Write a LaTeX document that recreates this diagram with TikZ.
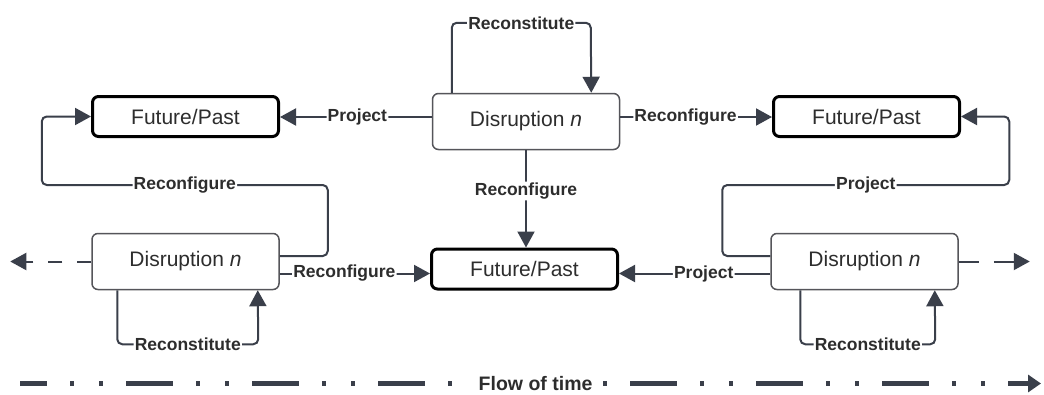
\documentclass[tikz,border=0pt]{standalone}
\usepackage{fontspec}
\setmainfont{Liberation Sans}
\usetikzlibrary{arrows.meta,calc}
\definecolor{conncol}{RGB}{58,63,74}
\definecolor{txtcol}{RGB}{45,45,45}
\definecolor{dborder}{RGB}{85,85,90}
\tikzset{
  fpbox/.style={draw=black, line width=3pt, rounded corners=6pt, fill=white,
    minimum width=186pt, minimum height=40pt, inner sep=0pt, text=txtcol,
    font=\fontsize{21}{25}\selectfont},
  dbox/.style={draw=dborder, line width=1.5pt, rounded corners=6pt, fill=white,
    minimum width=187pt, minimum height=56pt, inner sep=0pt, text=txtcol,
    font=\fontsize{21}{25}\selectfont},
  conn/.style={draw=conncol, line width=2pt, rounded corners=5pt},
  tip/.style={-{Triangle[length=16pt,width=17pt]}},
  lbl/.style={fill=white, inner sep=1.2pt, text=txtcol,
    font=\bfseries\fontsize{17.5}{20}\selectfont},
  flow/.style={draw=conncol, line width=4.5pt,
    dash pattern=on 47pt off 23pt on 4pt off 25pt on 4pt off 23pt, dash phase=20pt,
    -{Triangle[length=13pt,width=17pt]}},
  flowlbl/.style={fill=white, inner xsep=2pt, inner ysep=0.5pt, text=txtcol,
    font=\bfseries\fontsize{19.5}{22}\selectfont}
}
\begin{document}
\begin{tikzpicture}[x=1pt,y=-1pt]
\useasboundingbox[fill=white] (0,0) rectangle (1044,394);
% nodes
\node[fpbox] (fpL) at (185.5,116.5) {Future/Past};
\node[fpbox] (fpR) at (866.5,116.5) {Future/Past};
\node[fpbox] (fpC) at (524.5,269) {Future/Past};
\node[dbox] (dT) at (526,121.5) {Disruption \textit{n}};
\node[dbox] (dL) at (185.5,261.5) {Disruption \textit{n}};
\node[dbox] (dR) at (864.5,261.5) {Disruption \textit{n}};
% top disruption
\draw[conn,tip] ($(dT.north west)+(20,0)$) -- ++(0,-70) -- node[lbl]{Reconstitute} ++(139,0) -- ($(dT.north east)+(-29,0)$);
\draw[conn,tip] ($(dT.west)+(0,-4.5)$) coordinate (p1) -- node[lbl,pos=0.49]{Project} (p1 -| fpL.east);
\draw[conn,tip] ($(dT.east)+(0,-4.5)$) coordinate (p2) -- node[lbl,pos=0.43]{Reconfigure} (p2 -| fpR.west);
\draw[conn,tip] (dT.south) -- node[lbl,pos=0.42]{Reconfigure} (dT.south |- fpC.north);
% left disruption
\draw[conn,tip] ($(dL.east)+(0,-5.5)$) -- ++(48,0) -- ++(0,-71) -- node[lbl]{Reconfigure} ++(-286,0) |- (fpL.west);
\draw[conn,tip] ($(dL.east)+(0,12)$) coordinate (p3) -- node[lbl,pos=0.43]{Reconfigure} (p3 -| fpC.west);
\draw[conn,tip] ($(dL.south west)+(26,0)$) -- ++(0,54) -- node[lbl]{Reconstitute} ++(141,0) -- ($(dL.south east)+(-22,0)$);
\coordinate (lend) at ($(dL.west)+(-81,0)$);
\draw[conn,tip,dash pattern=on 14pt off 15pt] (dL.west) -- (lend);
% right disruption
\draw[conn,tip] ($(dR.west)+(0,-5.5)$) -- ++(-48,0) -- ++(0,-71) -- node[lbl]{Project} ++(287,0) |- (fpR.east);
\draw[conn,tip] ($(dR.west)+(0,12)$) coordinate (p4) -- node[lbl,pos=0.44]{Project} (p4 -| fpC.east);
\draw[conn,tip] ($(dR.south west)+(30,0)$) -- ++(0,54) -- node[lbl]{Reconstitute} ++(135,0) -- ($(dR.south east)+(-24,0)$);
\coordinate (rend) at ($(dR.east)+(71,0)$);
\draw[conn,tip,dash pattern=on 20pt off 15pt] (dR.east) -- (rend);
% flow of time
\coordinate (t0) at (20,383.5);
\coordinate (t1) at (1041,383.5);
\draw[flow] (t0) -- node[flowlbl,pos=0.505]{Flow of time} (t1);
\end{tikzpicture}
\end{document}
